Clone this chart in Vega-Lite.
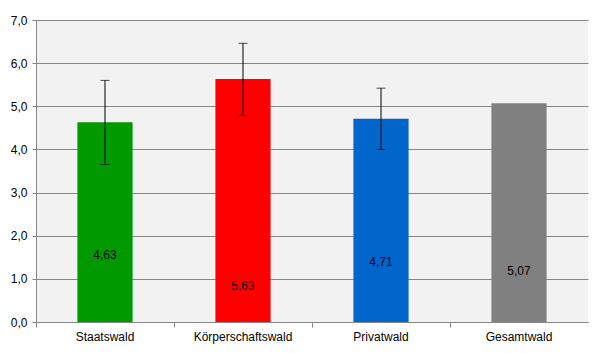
{
  "$schema": "https://vega.github.io/schema/vega-lite/v6.json",
  "width": 552,
  "height": 302,
  "autosize": "none",
  "padding": {"left": 36, "top": 20, "right": 12, "bottom": 31},
  "background": "white",
  "config": {
    "view": {"fill": "#f2f2f2", "stroke": null},
    "font": "Liberation Sans",
    "axisY": {
      "title": null, "labelOverlap": false,
      "labelFontSize": 12, "labelColor": "#000000", "labelFont": "Liberation Sans",
      "gridColor": "#868686", "gridOpacity": 1, "domainColor": "#868686",
      "tickColor": "#868686", "tickSize": 4, "labelPadding": 5
    }
  },
  "data": {
    "values": [
      {"kat": "Staatswald", "wert": 4.63, "lo": 3.65, "hi": 5.60, "label": "4,63", "labelY": 1.56, "farbe": "#009900"},
      {"kat": "Körperschaftswald", "wert": 5.63, "lo": 4.79, "hi": 6.46, "label": "5,63", "labelY": 0.83, "farbe": "#ff0000"},
      {"kat": "Privatwald", "wert": 4.71, "lo": 4.00, "hi": 5.42, "label": "4,71", "labelY": 1.40, "farbe": "#0066cc"},
      {"kat": "Gesamtwald", "wert": 5.07, "lo": null, "hi": null, "label": "5,07", "labelY": 1.18, "farbe": "#808080"}
    ]
  },
  "encoding": {
    "x": {
      "field": "kat", "type": "nominal", "sort": null,
      "scale": {"paddingInner": 0, "paddingOuter": 0},
      "axis": {
        "title": null, "labelAngle": 0, "labelFontSize": 12, "labelColor": "#000000",
        "labelFont": "Liberation Sans", "bandPosition": 0, "tickColor": "#868686",
        "domainColor": "#868686", "tickSize": 5, "labelPadding": 4, "grid": false
      }
    }
  },
  "layer": [
    {
      "mark": {"type": "bar", "width": {"band": 0.4}},
      "encoding": {
        "y": {
          "field": "wert", "type": "quantitative",
          "scale": {"domain": [0, 7], "nice": false},
          "axis": {"values": [0, 1, 2, 3, 4, 5, 6, 7], "labelExpr": "replace(format(datum.value, '.1f'), '.', ',')"}
        },
        "color": {"field": "farbe", "type": "nominal", "scale": null, "legend": null}
      }
    },
    {
      "transform": [{"filter": "datum.lo != null"}],
      "mark": {"type": "rule", "color": "#000000", "strokeWidth": 1},
      "encoding": {
        "y": {"field": "lo", "type": "quantitative", "axis": {"values": [0, 1, 2, 3, 4, 5, 6, 7], "labelExpr": "replace(format(datum.value, '.1f'), '.', ',')"}},
        "y2": {"field": "hi"}
      }
    },
    {
      "transform": [{"filter": "datum.lo != null"}],
      "mark": {"type": "tick", "color": "#000000", "size": 9, "thickness": 1},
      "encoding": {"y": {"field": "lo", "type": "quantitative", "axis": {"values": [0, 1, 2, 3, 4, 5, 6, 7], "labelExpr": "replace(format(datum.value, '.1f'), '.', ',')"}}}
    },
    {
      "transform": [{"filter": "datum.lo != null"}],
      "mark": {"type": "tick", "color": "#000000", "size": 9, "thickness": 1},
      "encoding": {"y": {"field": "hi", "type": "quantitative", "axis": {"values": [0, 1, 2, 3, 4, 5, 6, 7], "labelExpr": "replace(format(datum.value, '.1f'), '.', ',')"}}}
    },
    {
      "mark": {"type": "text", "fontSize": 12, "color": "#000000", "font": "Liberation Sans"},
      "encoding": {
        "y": {"field": "labelY", "type": "quantitative", "axis": {"values": [0, 1, 2, 3, 4, 5, 6, 7], "labelExpr": "replace(format(datum.value, '.1f'), '.', ',')"}},
        "text": {"field": "label"}
      }
    }
  ]
}
